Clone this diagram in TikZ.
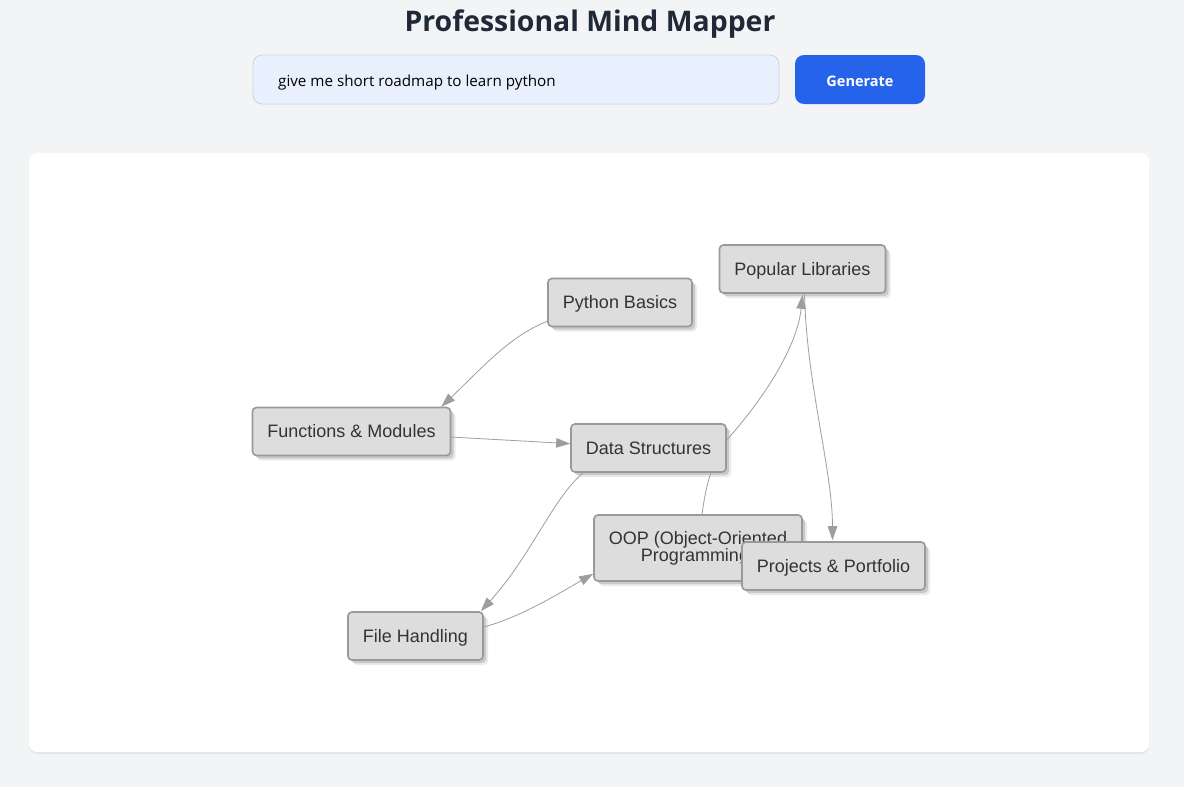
\documentclass[tikz,border=0pt]{standalone}
\usepackage{fontspec}
\setmainfont{Liberation Sans}
\newfontfamily\uifont{Open Sans}
\usetikzlibrary{shadows,arrows.meta}
\definecolor{bgc}{HTML}{F3F4F6}
\definecolor{titlec}{HTML}{1F2937}
\definecolor{inputfill}{HTML}{E8F0FE}
\definecolor{inputborder}{HTML}{CBD5E1}
\definecolor{btn}{HTML}{2563EB}
\definecolor{nodefill}{HTML}{DDDDDD}
\definecolor{nodeborder}{HTML}{999999}
\definecolor{nodetext}{HTML}{333333}
\definecolor{edgec}{HTML}{9E9E9E}
\tikzset{
  mapnode/.style={draw=nodeborder, fill=nodefill, line width=1.6pt,
    rounded corners=4pt, text=nodetext, inner xsep=15pt, minimum height=48pt,
    font=\fontsize{18}{17}\selectfont, align=center,
    drop shadow={shadow xshift=5pt, shadow yshift=-5pt, fill=black, opacity=.08},
    drop shadow={shadow xshift=3pt, shadow yshift=-3pt, fill=black, opacity=.14}},
  oneline/.style={text height=16pt, text depth=4pt},
  link/.style={draw=edgec, line width=0.8pt, -{Triangle[length=14pt,width=9.5pt]}},
  plainlink/.style={draw=edgec, line width=0.8pt},
}
\begin{document}
\begin{tikzpicture}[x=1pt,y=-1pt]
\useasboundingbox (0,0) rectangle (1184,787);
\fill[bgc] (0,0) rectangle (1184,787);
% card
\path[fill=white, rounded corners=8pt,
  drop shadow={shadow xshift=0pt, shadow yshift=-2pt, fill=black, opacity=.06}]
  (29,153) rectangle (1149,752);
% header
\node[font=\uifont\bfseries\fontsize{28.4}{34}\selectfont, text=titlec] (title) at (590,24) {Professional Mind Mapper};
\node[draw=inputborder, fill=inputfill, rounded corners=9pt, line width=0.8pt,
  minimum width=526pt, minimum height=49pt] (input) at (516,79.5) {};
\node[anchor=west, font=\uifont\fontsize{15.2}{17}\selectfont, text=black, inner sep=0pt, text height=11pt, text depth=3pt] (prompt) at (278,82.5) {give me short roadmap to learn python};
\node[fill=btn, rounded corners=9pt, minimum width=130pt, minimum height=49pt,
  text=white, text height=14pt, text depth=0pt, font=\uifont\bfseries\fontsize{14.5}{17}\selectfont] (gen) at (860,79.5) {Generate};
% nodes
\node[mapnode, oneline] (PB) at (620,302.5) {Python Basics};
\node[mapnode, oneline] (PL) at (802.5,269) {Popular Libraries};
\node[mapnode, oneline] (FM) at (351.5,431.5) {Functions \& Modules};
\node[mapnode, oneline] (DS) at (648.5,448) {Data Structures};
\node[mapnode, minimum height=66pt] (OOP) at (698,548) {OOP (Object-Oriented\\Programming)};
\node[mapnode, oneline] (PP) at (833.5,566) {Projects \& Portfolio};
\node[mapnode, oneline] (FH) at (415.5,636) {File Handling};
% connectors
\draw[link] ([yshift=6pt]PB.south west) .. controls +(-38,15) and +(40,-38) .. ([xshift=-10pt]FM.north east);
\draw[link] (FM) -- (DS);
\draw[link] ([yshift=8pt]DS.east) .. controls +(40,-45) and +(-5,50) .. ([yshift=-1pt]PL.south);
\draw[link] ([xshift=13pt]DS.south west) .. controls +(-30,25) and +(50,-55) .. ([xshift=-3pt]FH.north east);
\draw[link] ([yshift=9pt]FH.east) .. controls +(37,-10) and +(-35,20) .. ([yshift=8pt]OOP.south west);
\draw[link] ([xshift=2pt]PL.south) .. controls +(2,90) and +(0,-70) .. ([xshift=-1pt,yshift=1pt]PP.north);
\draw[plainlink] ([xshift=-16pt]DS.south east) .. controls +(-4,12) and +(2,-15) .. ([xshift=4pt]OOP.north);
\end{tikzpicture}
\end{document}
